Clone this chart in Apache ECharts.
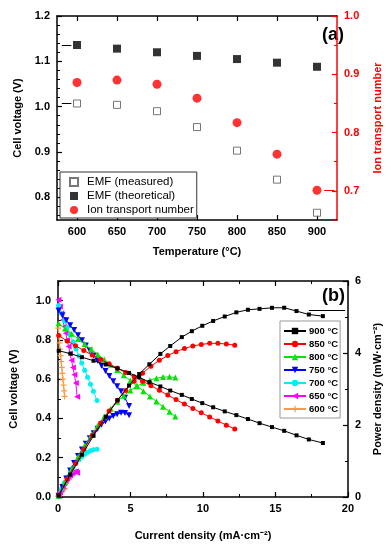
<!DOCTYPE html>
<html><head><meta charset="utf-8">
<script src="https://cdn.jsdelivr.net/npm/echarts@6/dist/echarts.min.js"></script>
<style>html,body{margin:0;padding:0;background:#fff}#c{width:391px;height:550px}</style>
</head><body><div id="c"></div>
<script>
// ---------- Panel (a) data ----------
const tempsA = [600, 650, 700, 750, 800, 850, 900];
const emfMeasured = [1.007, 1.004, 0.990, 0.955, 0.903, 0.839, 0.766];
const emfTheoretical = [1.136, 1.128, 1.120, 1.112, 1.105, 1.097, 1.088];
const ionTransport = [0.886, 0.890, 0.883, 0.859, 0.817, 0.763, 0.701];

const tempTicks = [600, 650, 700, 750, 800, 850, 900];
const voltTicksA = [0.8, 0.9, 1.0, 1.1, 1.2];
const voltMinorA = [0.76,0.78,0.82,0.84,0.86,0.88,0.92,0.94,0.96,0.98,1.02,1.04,1.06,1.08,1.12,1.14,1.16,1.18];
const ionTicks = [0.7, 0.8, 0.9, 1.0];
const ionMinor = [0.65, 0.75, 0.85, 0.95];

// ---------- Panel (b) data ----------
const curTicksB = [0, 5, 10, 15, 20];
const voltTicksB = [0, 0.2, 0.4, 0.6, 0.8, 1.0];
const voltMinorB = [0.1, 0.3, 0.5, 0.7, 0.9, 1.1];
const powTicksB = [0, 2, 4, 6];

const curr900 = [0.05,0.85,1.65,2.45,3.3,4.1,4.9,5.6,6.3,7.06,7.74,8.54,9.23,9.95,10.7,11.5,12.3,13.1,13.9,14.76,15.6,16.45,17.3,18.27];
const volt900 = [0.745,0.730,0.712,0.694,0.675,0.655,0.632,0.610,0.585,0.563,0.542,0.520,0.499,0.478,0.457,0.436,0.417,0.397,0.376,0.356,0.337,0.314,0.293,0.275];
const pow900  = [0.037,0.621,1.175,1.700,2.228,2.686,3.097,3.416,3.686,3.975,4.195,4.441,4.606,4.756,4.890,5.014,5.129,5.201,5.226,5.255,5.257,5.165,5.069,5.024];

const curr850 = [0.05,0.63,1.21,1.78,2.36,2.94,3.52,4.10,4.67,5.25,5.83,6.41,6.99,7.57,8.14,8.72,9.30,9.88,10.46,11.03,11.61,12.19];
const volt850 = [0.822,0.795,0.770,0.746,0.723,0.700,0.678,0.656,0.634,0.612,0.590,0.567,0.543,0.519,0.496,0.473,0.451,0.429,0.408,0.387,0.366,0.346];
const pow850  = [0.041,0.501,0.932,1.328,1.706,2.058,2.387,2.690,2.961,3.213,3.440,3.634,3.796,3.929,4.037,4.125,4.194,4.239,4.268,4.269,4.249,4.218];

const curr800 = [0.04,0.49,0.94,1.39,1.84,2.29,2.74,3.19,3.64,4.09,4.54,4.99,5.44,5.89,6.34,6.79,7.24,7.69,8.09];
const volt800 = [0.885,0.858,0.831,0.805,0.779,0.752,0.726,0.700,0.673,0.647,0.620,0.593,0.566,0.539,0.512,0.486,0.460,0.434,0.410];
const pow800  = [0.035,0.420,0.781,1.119,1.433,1.722,1.989,2.233,2.450,2.646,2.815,2.959,3.079,3.175,3.246,3.300,3.330,3.337,3.317];

const curr750 = [0.04,0.30,0.57,0.84,1.11,1.38,1.65,1.92,2.19,2.46,2.73,3.00,3.27,3.54,3.81,4.08,4.35,4.62,4.90];
const volt750 = [0.950,0.925,0.900,0.875,0.850,0.824,0.798,0.772,0.746,0.720,0.694,0.668,0.642,0.616,0.590,0.564,0.538,0.505,0.463];
const pow750  = [0.038,0.278,0.513,0.735,0.944,1.137,1.317,1.482,1.634,1.771,1.895,2.004,2.099,2.181,2.248,2.301,2.340,2.333,2.269];

const curr700 = [0.04,0.24,0.44,0.64,0.84,1.04,1.24,1.44,1.64,1.84,2.04,2.24,2.44,2.69];
const volt700 = [0.975,0.935,0.898,0.862,0.826,0.790,0.754,0.718,0.682,0.646,0.610,0.574,0.538,0.492];
const pow700  = [0.039,0.224,0.395,0.552,0.694,0.822,0.935,1.034,1.118,1.189,1.244,1.286,1.313,1.323];

const curr650 = [0.03,0.13,0.23,0.33,0.43,0.53,0.63,0.73,0.83,0.93,1.03,1.13,1.23,1.32];
const volt650 = [1.005,0.970,0.936,0.902,0.868,0.834,0.800,0.766,0.731,0.696,0.660,0.622,0.580,0.510];
const pow650  = [0.030,0.126,0.215,0.298,0.373,0.442,0.504,0.559,0.607,0.647,0.680,0.703,0.713,0.673];

const curr600 = [0.02,0.06,0.10,0.14,0.18,0.22,0.26,0.30,0.34,0.38,0.42,0.46];
const volt600 = [0.860,0.820,0.785,0.752,0.720,0.690,0.660,0.630,0.600,0.570,0.540,0.512];
const pow600  = [0.017,0.049,0.079,0.105,0.130,0.152,0.172,0.189,0.204,0.217,0.227,0.236];

// ---------- styling helpers ----------
const FONT = '"Liberation Sans", Arial, sans-serif';
const lbl = (o) => Object.assign({fontFamily: FONT, fontWeight: 'bold', fontSize: 11, color: '#000'}, o || {});
const line = (c) => ({show: true, onZero: false, lineStyle: {color: c || '#000', width: 1.5}});
const noLine = {show: false};

function ax(o) {
  return Object.assign({type: 'value', splitLine: {show: false}, axisPointer: {show: false}}, o);
}

const xAxis = [
  ax({gridIndex: 0, position: 'bottom', min: 575, max: 925, axisLine: line(),
      axisTick: {show: true, inside: true, length: 5, customValues: tempTicks, lineStyle: {color: '#000', width: 1.2}},
      axisLabel: lbl({show: true, customValues: tempTicks, margin: 6}),
      name: 'Temperature (°C)', nameLocation: 'middle', nameGap: 26, nameTextStyle: lbl()}),
  ax({gridIndex: 0, position: 'top', min: 575, max: 925, axisLine: line(),
      axisTick: {show: true, inside: true, length: 5, customValues: tempTicks, lineStyle: {color: '#000', width: 1.2}},
      axisLabel: {show: false}}),
  ax({gridIndex: 1, position: 'bottom', min: 0, max: 20, interval: 5, axisLine: line(),
      axisTick: {show: true, inside: true, length: 5, lineStyle: {color: '#000', width: 1.2}},
      minorTick: {show: true, splitNumber: 2, length: 3, lineStyle: {color: '#000', width: 1}},
      axisLabel: lbl({show: true, customValues: curTicksB, margin: 6}),
      name: 'Current density (mA·cm⁻²)', nameLocation: 'middle', nameGap: 33, nameTextStyle: lbl()}),
  ax({gridIndex: 1, position: 'top', min: 0, max: 20, interval: 5, axisLine: line(),
      axisTick: {show: true, inside: true, length: 5, lineStyle: {color: '#000', width: 1.2}},
      minorTick: {show: true, splitNumber: 2, length: 3, lineStyle: {color: '#000', width: 1}},
      axisLabel: {show: false}})
];

const yAxis = [
  ax({gridIndex: 0, position: 'left', min: 0.75, max: 1.2, axisLine: line(),
      axisTick: {show: true, inside: true, length: 5, customValues: voltTicksA, lineStyle: {color: '#000', width: 1.2}},
      axisLabel: lbl({show: true, customValues: voltTicksA, margin: 7, formatter: v => v.toFixed(1)}),
      name: 'Cell voltage (V)', nameLocation: 'middle', nameGap: 26, nameTextStyle: lbl()}),
  ax({gridIndex: 0, position: 'right', min: 0.65, max: 1.0, axisLine: line('#ff0000'),
      axisTick: {show: true, inside: true, length: 5, customValues: ionTicks, lineStyle: {color: '#ff0000', width: 1.2}},
      axisLabel: lbl({show: true, customValues: ionTicks, margin: 7, color: '#ff0000', formatter: v => v.toFixed(1)}),
      name: 'Ion transport number', nameLocation: 'middle', nameGap: 35, nameTextStyle: lbl({color: '#ff0000'})}),
  ax({gridIndex: 1, position: 'left', min: 0, max: 1.1, axisLine: line(),
      axisTick: {show: true, inside: true, length: 5, customValues: voltTicksB, lineStyle: {color: '#000', width: 1.2}},
      axisLabel: lbl({show: true, customValues: voltTicksB, margin: 7, formatter: v => v.toFixed(1)}),
      name: 'Cell voltage (V)', nameLocation: 'middle', nameGap: 39, nameTextStyle: lbl()}),
  ax({gridIndex: 1, position: 'right', min: 0, max: 6, interval: 2, axisLine: line(),
      axisTick: {show: true, inside: true, length: 5, lineStyle: {color: '#000', width: 1.2}},
      minorTick: {show: true, splitNumber: 2, length: 3, lineStyle: {color: '#000', width: 1}},
      axisLabel: lbl({show: true, customValues: powTicksB, margin: 7}),
      name: 'Power density (mW·cm⁻²)', nameLocation: 'middle', nameGap: 22, nameTextStyle: lbl()}),
  // minor-tick helpers
  ax({gridIndex: 0, position: 'left', min: 0.75, max: 1.2, axisLine: noLine, axisLabel: {show: false},
      axisTick: {show: true, inside: true, length: 3, customValues: voltMinorA, lineStyle: {color: '#000', width: 1}}}),
  ax({gridIndex: 0, position: 'right', min: 0.65, max: 1.0, axisLine: noLine, axisLabel: {show: false},
      axisTick: {show: true, inside: true, length: 3, customValues: ionMinor, lineStyle: {color: '#ff0000', width: 1}}}),
  ax({gridIndex: 1, position: 'left', min: 0, max: 1.1, axisLine: noLine, axisLabel: {show: false},
      axisTick: {show: true, inside: true, length: 3, customValues: voltMinorB, lineStyle: {color: '#000', width: 1}}})
];

const pair = (a, b) => a.map((v, i) => [v, b[i]]);

const arrowLine = {color: '#000', width: 1, type: 'solid'};
const series = [
  {name: 'EMF (measured)', type: 'scatter', xAxisIndex: 0, yAxisIndex: 0, symbol: 'rect', symbolSize: 7,
   itemStyle: {color: '#fff', borderColor: '#555', borderWidth: 1}, data: pair(tempsA, emfMeasured),
   markLine: {silent: true, symbol: ['none', 'arrow'], symbolSize: [0, 6], label: {show: false}, lineStyle: arrowLine,
     data: [[{coord: [593, emfMeasured[0]]}, {coord: [581, emfMeasured[0]]}]]}},
  {name: 'EMF (theoretical)', type: 'scatter', xAxisIndex: 0, yAxisIndex: 0, symbol: 'rect', symbolSize: 8,
   itemStyle: {color: '#000'}, data: pair(tempsA, emfTheoretical),
   markLine: {silent: true, symbol: ['none', 'arrow'], symbolSize: [0, 6], label: {show: false}, lineStyle: arrowLine,
     data: [[{coord: [593, emfTheoretical[0]]}, {coord: [581, emfTheoretical[0]]}]]}},
  {name: 'Ion transport number', type: 'scatter', xAxisIndex: 0, yAxisIndex: 1, symbol: 'circle', symbolSize: 9,
   itemStyle: {color: '#ff0000'}, data: pair(tempsA, ionTransport),
   markLine: {silent: true, symbol: ['none', 'arrow'], symbolSize: [0, 6], label: {show: false}, lineStyle: {color: '#ff0000', width: 1, type: 'solid'},
     data: [[{coord: [909, ionTransport[6]]}, {coord: [922, ionTransport[6]]}]]}}
];

const DOWN = 'path://M0,0 L10,0 L5,9 Z';
const LEFT = 'path://M0,5 L9,0 L9,10 Z';
const PLUS = 'path://M4,0 H6 V4 H10 V6 H6 V10 H4 V6 H0 V4 H4 Z';
const temps = [
  {name: '900 °C', color: '#000000', symbol: 'rect', size: 4, c: curr900, v: volt900, p: pow900},
  {name: '850 °C', color: '#ff0000', symbol: 'circle', size: 5, c: curr850, v: volt850, p: pow850},
  {name: '800 °C', color: '#00e600', symbol: 'triangle', size: 6, c: curr800, v: volt800, p: pow800},
  {name: '750 °C', color: '#0000ff', symbol: DOWN, size: 6, c: curr750, v: volt750, p: pow750},
  {name: '700 °C', color: '#00f0f0', symbol: 'circle', size: 5, c: curr700, v: volt700, p: pow700},
  {name: '650 °C', color: '#ff00ff', symbol: LEFT, size: 6, c: curr650, v: volt650, p: pow650},
  {name: '600 °C', color: '#ff9a40', symbol: PLUS, size: 6, c: curr600, v: volt600, p: pow600}
];
temps.forEach((t, k) => {
  const base = {name: t.name, type: 'line', xAxisIndex: 2, symbol: t.symbol, symbolSize: t.size, showSymbol: true,
    lineStyle: {color: t.color, width: 1}, itemStyle: {color: t.color}, z: 10 - k};
  series.push(Object.assign({}, base, {yAxisIndex: 2, data: pair(t.c, t.v)}));
  const ps = Object.assign({}, base, {yAxisIndex: 3, data: pair(t.c, t.p)});
  if (k === 0) {
    ps.markLine = {silent: true, symbol: ['none', 'arrow'], symbolSize: [0, 6], label: {show: false}, lineStyle: arrowLine,
      data: [[{coord: [17.3, 5.2]}, {coord: [19.8, 5.2]}]]};
  }
  series.push(ps);
});

const option = {
  animation: false,
  backgroundColor: '#fff',
  grid: [
    {left: 57, right: 42, top: 16, height: 204},
    {left: 57, right: 42, top: 281, height: 216}
  ],
  xAxis, yAxis, series,
  legend: [
    {data: ['EMF (measured)', 'EMF (theoretical)', 'Ion transport number'], orient: 'vertical', left: 60, top: 172,
     selectedMode: false, itemWidth: 8, itemHeight: 8, itemGap: 2, padding: [4, 3, 2, 9],
     borderColor: '#333', borderWidth: 1, backgroundColor: '#fff',
     textStyle: {fontFamily: FONT, fontSize: 11.5, color: '#000', padding: [0, 0, 0, 4]}},
    {data: temps.map(t => t.name), orient: 'vertical', left: 280, top: 321, selectedMode: false,
     itemWidth: 22, itemHeight: 8, itemGap: 3, padding: [5, 2, 4, 3],
     borderColor: '#999', borderWidth: 1, backgroundColor: '#fff',
     textStyle: {fontFamily: FONT, fontSize: 9.5, fontWeight: 'bold', color: '#000', padding: [0, 0, 0, -2]}}
  ],
  graphic: [
    {type: 'text', left: 322, top: 26, style: {text: '(a)', font: 'bold 18px "Liberation Sans", Arial', fill: '#000'}},
    {type: 'text', left: 322, top: 287, style: {text: '(b)', font: 'bold 18px "Liberation Sans", Arial', fill: '#000'}}
  ]
};

const chart = echarts.init(document.getElementById('c'), null, {renderer: 'canvas'});
chart.setOption(option);
</script></body></html>
